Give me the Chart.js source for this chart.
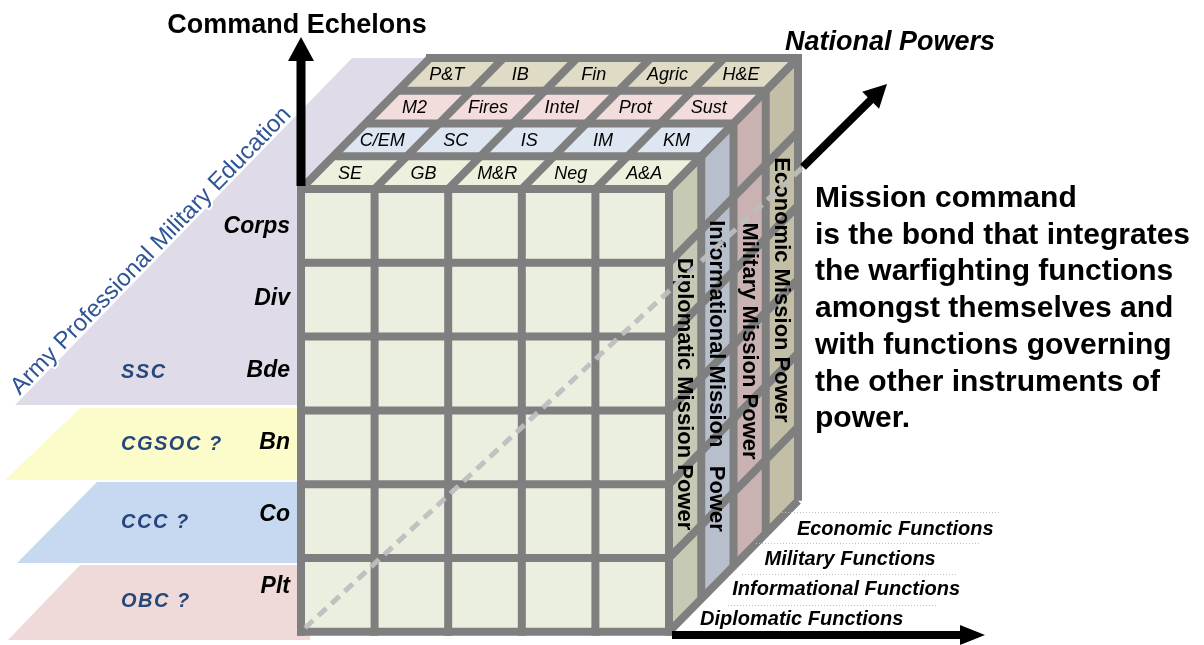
<!DOCTYPE html>
<html>
<head>
<meta charset="utf-8">
<script src="https://cdn.jsdelivr.net/npm/chart.js@4.4.0/dist/chart.umd.min.js"></script>
<style>
  html, body { margin: 0; padding: 0; background: #fff; }
  #wrap { width: 1204px; height: 645px; position: relative; }
</style>
</head>
<body>
<div id="wrap"><canvas id="cube"></canvas></div>
<script>
// command echelons, top row of the cube first
const echelons = ['Corps', 'Div', 'Bde', 'Bn', 'Co', 'Plt'];
// instruments of national power, front slice first
const powers = ['Diplomatic', 'Informational', 'Military', 'Economic'];
// functions shown on the top face, one list per power
const functionLabels = [
  ['SE', 'GB', 'M&R', 'Neg', 'A&A'],
  ['C/EM', 'SC', 'IS', 'IM', 'KM'],
  ['M2', 'Fires', 'Intel', 'Prot', 'Sust'],
  ['P&T', 'IB', 'Fin', 'Agric', 'H&E']
];
// professional military education courses, top band first
const pmeCourses = ['SSC', 'CGSOC ?', 'CCC ?', 'OBC ?'];
const noteLines = [
  'Mission command',
  'is the bond that integrates',
  'the warfighting functions',
  'amongst themselves and',
  'with functions governing',
  'the other instruments of',
  'power.'
];

//layout and colours (all in the 1204 x 645 value space of the scales)
const FONT = '"Liberation Sans", Arial, sans-serif';
const G = { x0: 301, y0: 189, cellW: 73.6, cellH: 73.8, dx: 32.25, dy: -32.75, line: 8 };
const gridColor = '#7f7f7f';
const frontColor = '#ebefdf';
const topColors = ['#eef0de', '#dde6f1', '#f2dddc', '#dfdbc5'];
const sideColors = ['#c6c9b4', '#b7bfcd', '#c9b2b1', '#c3bfa7'];
const bandColors = ['#dfdbe9', '#fcfcca', '#c6d9f1', '#f0dad9'];
const bands = [
  [[15, 405], [352, 58], [520, 58], [520, 405]],
  [[80, 408], [310, 408], [310, 480], [5, 480]],
  [[97, 482], [310, 482], [310, 563], [17, 563]],
  [[80, 565], [310, 565], [310, 640], [8, 640]]
];
const pmeLabelY = [378, 450, 528, 607];
const sideTextY = [394, 376, 341, 290];

const cubePlugin = {
  id: 'cube',
  beforeDatasetsDraw(chart) {
    const { ctx, scales: { x, y } } = chart;
    const X = v => x.getPixelForValue(v);
    const Y = v => y.getPixelForValue(v);
    //corner of the cube grid: column, row, depth slice
    const corner = (c, r, d) => [X(G.x0 + c * G.cellW + d * G.dx), Y(G.y0 + r * G.cellH + d * G.dy)];
    const poly = (pts, fill) => {
      ctx.beginPath();
      pts.forEach((p, i) => (i ? ctx.lineTo(p[0], p[1]) : ctx.moveTo(p[0], p[1])));
      ctx.closePath();
      ctx.fillStyle = fill;
      ctx.fill();
    };
    const seg = (a, b, cap) => {
      ctx.lineCap = cap || 'butt';
      ctx.beginPath();
      ctx.moveTo(a[0], a[1]);
      ctx.lineTo(b[0], b[1]);
      ctx.stroke();
    };

    ctx.save();
    //education bands behind the cube
    bands.forEach((b, i) => poly(b.map(p => [X(p[0]), Y(p[1])]), bandColors[i]));

    const cols = functionLabels[0].length;
    const rows = echelons.length;
    const depth = powers.length;

    //front face cells
    for (let r = 0; r < rows; r++) {
      for (let c = 0; c < cols; c++) {
        poly([corner(c, r, 0), corner(c + 1, r, 0), corner(c + 1, r + 1, 0), corner(c, r + 1, 0)], frontColor);
      }
    }
    //top face cells
    for (let d = 0; d < depth; d++) {
      for (let c = 0; c < cols; c++) {
        poly([corner(c, 0, d), corner(c + 1, 0, d), corner(c + 1, 0, d + 1), corner(c, 0, d + 1)], topColors[d]);
      }
    }
    //right face cells
    for (let d = 0; d < depth; d++) {
      for (let r = 0; r < rows; r++) {
        poly([corner(cols, r, d), corner(cols, r, d + 1), corner(cols, r + 1, d + 1), corner(cols, r + 1, d)], sideColors[d]);
      }
    }

    //grid lines: square ends on the straight outer edges, butt ends elsewhere
    ctx.strokeStyle = gridColor;
    ctx.lineWidth = G.line;
    for (let d = 0; d <= depth; d++) seg(corner(0, 0, d), corner(cols, 0, d), d === 0 || d === depth ? 'square' : 'butt');
    for (let c = 0; c <= cols; c++) seg(corner(c, 0, 0), corner(c, 0, depth));
    for (let d = 1; d <= depth; d++) seg(corner(cols, 0, d), corner(cols, rows, d));
    for (let r = 0; r <= rows; r++) seg(corner(cols, r, 0), corner(cols, r, depth));
    for (let c = 0; c <= cols; c++) seg(corner(c, 0, 0), corner(c, rows, 0), 'square');
    for (let r = 0; r <= rows; r++) seg(corner(0, r, 0), corner(cols, r, 0), 'square');

    //function labels on the top face
    ctx.fillStyle = '#000';
    ctx.font = 'italic 18px ' + FONT;
    ctx.textAlign = 'center';
    ctx.textBaseline = 'middle';
    functionLabels.forEach((list, d) => {
      list.forEach((lab, c) => {
        const p = corner(c + 0.5, 0, d + 0.5);
        ctx.fillText(lab, p[0] - 4, p[1] + 1);
      });
    });

    //mission power labels on the right face
    ctx.font = 'bold 22px ' + FONT;
    powers.forEach((p, d) => {
      const cx = corner(cols, 0, d + 0.5)[0];
      ctx.save();
      ctx.translate(cx, Y(sideTextY[d]));
      ctx.rotate(Math.PI / 2);
      ctx.fillText(p === 'Informational' ? p + ' Mission   Power' : p + ' Mission Power', 0, 1);
      ctx.restore();
    });
    ctx.restore();
  },
  afterDatasetsDraw(chart) {
    const { ctx, scales: { x, y } } = chart;
    const X = v => x.getPixelForValue(v);
    const Y = v => y.getPixelForValue(v);
    const arrow = (x1, y1, x2, y2, w, headLen, headHalf) => {
      const ax = X(x1), ay = Y(y1), bx = X(x2), by = Y(y2);
      const len = Math.hypot(bx - ax, by - ay);
      const ux = (bx - ax) / len, uy = (by - ay) / len;
      const hx = bx - ux * headLen, hy = by - uy * headLen;
      ctx.strokeStyle = '#000';
      ctx.fillStyle = '#000';
      ctx.lineWidth = w;
      ctx.lineCap = 'butt';
      ctx.beginPath();
      ctx.moveTo(ax, ay);
      ctx.lineTo(hx + ux, hy + uy);
      ctx.stroke();
      ctx.beginPath();
      ctx.moveTo(bx, by);
      ctx.lineTo(hx - uy * headHalf, hy + ux * headHalf);
      ctx.lineTo(hx + uy * headHalf, hy - ux * headHalf);
      ctx.closePath();
      ctx.fill();
    };
    const text = (s, tx, ty, font, color, align) => {
      ctx.font = font;
      ctx.fillStyle = color;
      ctx.textAlign = align || 'left';
      ctx.textBaseline = 'alphabetic';
      ctx.fillText(s, X(tx), Y(ty));
    };

    ctx.save();
    //national powers axis: dashed through the cube, solid beyond it
    ctx.strokeStyle = 'rgba(190,190,190,0.95)';
    ctx.lineWidth = 5;
    ctx.setLineDash([11, 7]);
    ctx.beginPath();
    ctx.moveTo(X(305), Y(628));
    ctx.lineTo(X(803), Y(167));
    ctx.stroke();
    ctx.setLineDash([]);

    arrow(301, 186, 301, 37, 9, 24, 13);
    arrow(803, 167, 887, 84, 8, 23, 12);
    arrow(672, 635, 985, 635, 8, 25, 10);

    //axis titles
    text('Command Echelons', 297, 33, 'bold 27px ' + FONT, '#000', 'center');
    text('National Powers', 785, 50, 'bold italic 27px ' + FONT, '#000');

    //echelon labels
    echelons.forEach((e, r) => text(e, 290, 233 + r * 72, 'bold italic 23px ' + FONT, '#000', 'right'));

    //education course labels
    ctx.letterSpacing = '1.5px';
    pmeCourses.forEach((p, i) => text(p, 121, pmeLabelY[i], 'bold italic 20px ' + FONT, '#254779'));
    ctx.letterSpacing = '0px';

    //diagonal title along the lavender band
    const e0 = bands[0][0], e1 = bands[0][1];
    const ang = Math.atan2(Y(e1[1]) - Y(e0[1]), X(e1[0]) - X(e0[0]));
    ctx.save();
    ctx.translate(X(e0[0]), Y(e0[1]));
    ctx.rotate(ang);
    ctx.font = '24px ' + FONT;
    ctx.textAlign = 'left';
    ctx.textBaseline = 'alphabetic';
    ctx.lineWidth = 4;
    ctx.strokeStyle = '#fff';
    ctx.lineJoin = 'round';
    ctx.strokeText('Army Professional Military Education', 10, -3);
    ctx.fillStyle = '#2f5597';
    ctx.fillText('Army Professional Military Education', 10, -3);
    ctx.restore();

    //function rows along the floor, front power first
    ctx.strokeStyle = '#c0c0c0';
    ctx.lineWidth = 1;
    ctx.setLineDash([1, 2]);
    powers.forEach((p, d) => {
      ctx.beginPath();
      ctx.moveTo(X(728 + d * 14), Y(605.5 - d * 31));
      ctx.lineTo(X(937 + d * 21), Y(605.5 - d * 31));
      ctx.stroke();
    });
    ctx.setLineDash([]);
    powers.forEach((p, d) => text(p + ' Functions', 700 + d * 32.3, 625 - d * 30, 'bold italic 20px ' + FONT, '#000'));

    //note on the right
    noteLines.forEach((l, i) => text(l, 815, 207 + i * 36.7, 'bold 30px ' + FONT, '#000'));
    ctx.restore();
  }
};

new Chart(document.getElementById('cube'), {
  type: 'scatter',
  data: { datasets: [{ data: [] }] },
  options: {
    responsive: true,
    maintainAspectRatio: false,
    animation: false,
    events: [],
    layout: { padding: 0 },
    plugins: { legend: { display: false }, tooltip: { enabled: false } },
    scales: {
      x: { type: 'linear', min: 0, max: 1204, display: false },
      y: { type: 'linear', min: 0, max: 645, reverse: true, display: false }
    }
  },
  plugins: [cubePlugin]
});
</script>
</body>
</html>
